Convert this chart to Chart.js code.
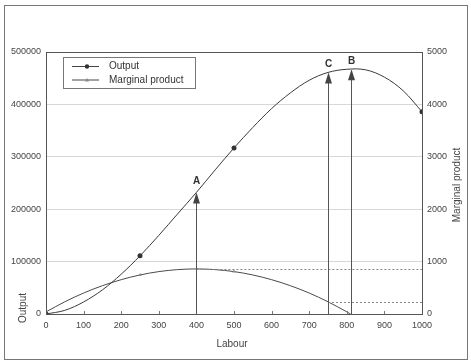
<!DOCTYPE html>
<html>
<head>
<meta charset="utf-8">
<script src="https://cdn.jsdelivr.net/npm/chart.js@4"></script>
<style>
  body { margin: 0; background: #fff; }
  canvas { display: block; }
</style>
</head>
<body>
<canvas id="myChart" width="471" height="364"></canvas>
<script>
// values
const labour = [0, 50, 100, 150, 200, 250, 300, 350, 400, 450, 500,
  550, 600, 650, 700, 750, 800, 850, 900, 950, 1000];
const output = [0, 7000, 23000, 46000, 76000, 111000, 150000, 191000, 232000, 275000, 317000,
  356000, 392000, 422000, 446000, 461000, 467000, 466000, 452000, 426000, 386000];
const outputMarked = [0, 250, 500, 1000];

const mpLabour = [0, 50, 100, 150, 200, 250, 300, 350, 400, 450, 500,
  550, 600, 650, 700, 750, 800, 810];
const marginal = [40, 233, 400, 540, 655, 745, 809, 847, 860, 847, 809,
  745, 655, 540, 400, 233, 41, 0];
const mpMarked = [250, 500];

// points A, C, B
const markNames = ["A", "C", "B"];
const markLabour = [400, 750, 810];
const markOutput = [232000, 461000, 467000];
// dotted guides to the right axis
const guideLabour = [400, 750];
const guideMP = [860, 233];

const xTicks = [0, 100, 200, 300, 400, 500, 600, 700, 800, 900, 1000];

const FONT = "'Liberation Sans', Arial, sans-serif";

const extras = {
  id: "extras",
  afterDatasetsDraw(chart) {
    const ctx = chart.ctx;
    const a = chart.chartArea;
    const x = chart.scales.x, y = chart.scales.y, y1 = chart.scales.y1;
    ctx.save();

    // plot frame
    ctx.strokeStyle = "#555";
    ctx.lineWidth = 1;
    ctx.strokeRect(Math.round(a.left) + 0.5, Math.round(a.top) + 0.5,
      Math.round(a.right - a.left), Math.round(a.bottom - a.top));

    // outer frame
    ctx.strokeStyle = "#777";
    ctx.strokeRect(4.5, 5.5, 463, 354);

    // small ticks on x axis, inside
    ctx.strokeStyle = "#777";
    xTicks.forEach(v => {
      if (v === 0 || v === 1000) return;
      const px = Math.round(x.getPixelForValue(v)) + 0.5;
      ctx.beginPath();
      ctx.moveTo(px, a.bottom);
      ctx.lineTo(px, a.bottom - 3);
      ctx.stroke();
    });

    // dotted guides
    ctx.strokeStyle = "#888";
    ctx.setLineDash([2, 2]);
    guideLabour.forEach((l, i) => {
      const py = Math.round(y1.getPixelForValue(guideMP[i])) + 0.5;
      ctx.beginPath();
      ctx.moveTo(x.getPixelForValue(l), py);
      ctx.lineTo(a.right, py);
      ctx.stroke();
    });
    ctx.setLineDash([]);

    // arrows
    markLabour.forEach((l, i) => {
      const px = Math.round(x.getPixelForValue(l)) + 0.5;
      const tip = y.getPixelForValue(markOutput[i]);
      ctx.strokeStyle = "#555";
      ctx.beginPath();
      ctx.moveTo(px, a.bottom);
      ctx.lineTo(px, tip + 6);
      ctx.stroke();
      ctx.fillStyle = "#444";
      ctx.beginPath();
      ctx.moveTo(px, tip);
      ctx.lineTo(px - 3.5, tip + 11);
      ctx.lineTo(px + 3.5, tip + 11);
      ctx.closePath();
      ctx.fill();
      ctx.fillStyle = "#333";
      ctx.font = "bold 10px " + FONT;
      ctx.textAlign = "center";
      ctx.textBaseline = "middle";
      ctx.fillText(markNames[i], px, tip - (i === 0 ? 11 : 8));
    });

    // axis titles
    ctx.fillStyle = "#444";
    ctx.font = "10px " + FONT;
    ctx.textAlign = "center";
    ctx.textBaseline = "middle";
    ctx.fillText("Labour", 232, 344);
    ctx.save();
    ctx.translate(23, 308);
    ctx.rotate(-Math.PI / 2);
    ctx.fillText("Output", 0, 0);
    ctx.restore();
    ctx.save();
    ctx.translate(457, 185);
    ctx.rotate(-Math.PI / 2);
    ctx.fillText("Marginal product", 0, 0);
    ctx.restore();

    // legend box
    ctx.strokeStyle = "#777";
    ctx.strokeRect(63.5, 57.5, 132, 31);
    const rows = [
      { text: "Output", y: 66, style: "circle" },
      { text: "Marginal product", y: 79.5, style: "triangle" }
    ];
    rows.forEach(r => {
      ctx.strokeStyle = "#444";
      ctx.beginPath();
      ctx.moveTo(72, r.y + 0.5);
      ctx.lineTo(99, r.y + 0.5);
      ctx.stroke();
      if (r.style === "circle") {
        ctx.fillStyle = "#333";
        ctx.beginPath();
        ctx.arc(87, r.y + 0.5, 2.2, 0, Math.PI * 2);
        ctx.fill();
      } else {
        ctx.fillStyle = "#888";
        ctx.beginPath();
        ctx.moveTo(87, r.y - 1.5);
        ctx.lineTo(85, r.y + 2);
        ctx.lineTo(89, r.y + 2);
        ctx.closePath();
        ctx.fill();
      }
      ctx.fillStyle = "#333";
      ctx.textAlign = "left";
      ctx.fillText(r.text, 109, r.y + 0.5);
    });

    ctx.restore();
  }
};

const outPoints = labour.map((l, i) => ({ x: l, y: output[i] }));
const mpPoints = mpLabour.map((l, i) => ({ x: l, y: marginal[i] }));

const data = {
  datasets: [
    {
      label: "Output",
      data: outPoints,
      yAxisID: "y",
      borderColor: "#3a3a3a",
      borderWidth: 1,
      tension: 0.35,
      pointStyle: "circle",
      pointRadius: labour.map(l => outputMarked.includes(l) ? 2.5 : 0),
      pointBackgroundColor: "#333",
      pointBorderColor: "#333",
      pointBorderWidth: 0,
      fill: false,
    },
    {
      label: "Marginal product",
      data: mpPoints,
      yAxisID: "y1",
      borderColor: "#4a4a4a",
      borderWidth: 1,
      tension: 0.35,
      pointStyle: "triangle",
      pointRadius: mpLabour.map(l => mpMarked.includes(l) ? 2 : 0),
      pointBackgroundColor: "#888",
      pointBorderColor: "#888",
      pointBorderWidth: 0,
      fill: false,
    },
  ],
};

const tickFont = { family: FONT, size: 9 };
const plain = v => String(v); // no thousands separators

const config = {
  type: "line",
  data: data,
  options: {
    responsive: false,
    animation: false,
    layout: { padding: { top: 52, left: 0, right: 0, bottom: 0 } },
    plugins: {
      legend: { display: false },
      tooltip: { enabled: false },
    },
    scales: {
      x: {
        type: "linear",
        min: 0,
        max: 1000,
        afterBuildTicks: s => { s.ticks = xTicks.map(v => ({ value: v })); },
        afterFit: s => { s.height = 50; },
        ticks: { color: "#444", font: tickFont, padding: 6, maxRotation: 0, callback: plain },
        grid: { display: false, drawTicks: false },
        border: { display: true, color: "#444", width: 1 },
      },
      y: {
        position: "left",
        min: 0,
        max: 500000,
        afterFit: s => { s.width = 46; },
        ticks: { stepSize: 100000, color: "#444", font: tickFont, padding: 5, callback: plain },
        grid: { color: "#d8d8d8", drawTicks: false },
        border: { display: true, color: "#444", width: 1 },
      },
      y1: {
        position: "right",
        min: 0,
        max: 5000,
        afterFit: s => { s.width = 49; },
        ticks: { stepSize: 1000, color: "#444", font: tickFont, padding: 5, callback: plain },
        grid: { drawOnChartArea: false, drawTicks: false },
        border: { display: true, color: "#444", width: 1 },
      },
    },
  },
  plugins: [extras],
};

const myChart = new Chart(document.getElementById("myChart"), config);
</script>
</body>
</html>
